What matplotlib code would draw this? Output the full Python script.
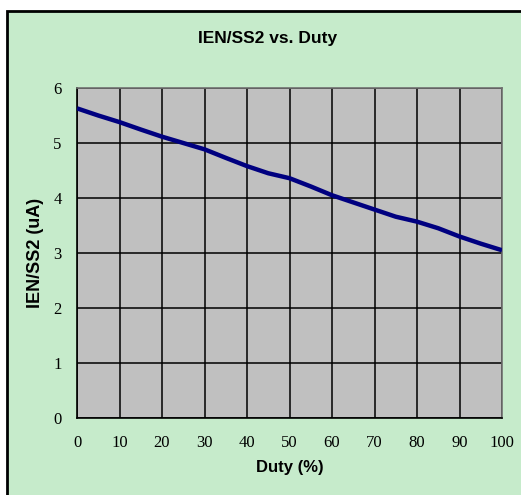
import matplotlib
matplotlib.use("Agg")
import matplotlib.pyplot as plt
from matplotlib.patches import Rectangle

# data
duty = [0, 5, 10, 15, 20, 25, 30, 35, 40, 45, 50, 55, 60, 65, 70, 75, 80, 85, 90, 95, 100]
ien = [5.63, 5.50, 5.38, 5.245, 5.115, 5.00, 4.885, 4.73, 4.58, 4.45, 4.36, 4.21,
       4.05, 3.92, 3.79, 3.66, 3.57, 3.45, 3.30, 3.17, 3.05]
xticks = list(range(0, 101, 10))
yticks = list(range(0, 7))

W, H = 521, 495
fig = plt.figure(figsize=(W / 100, H / 100), dpi=100, facecolor="white")

# green chart panel with black frame (right/bottom run off the image)
fig.patches.append(Rectangle((7 / W, -0.05), 1.1, 1 - 11 / H + 0.05, transform=fig.transFigure,
                             facecolor="#C6EBCB", edgecolor="black", linewidth=2, zorder=-1))

ax = fig.add_axes([77 / W, 1 - 418 / H, (502 - 77) / W, (418 - 88) / H])
ax.set_facecolor("#C0C0C0")
ax.plot(duty, ien, color="#000080", linewidth=3.2, solid_capstyle="butt", zorder=3)

ax.set_xlim(0, 100)
ax.set_ylim(0, 6)
ax.set_xticks(xticks)
ax.set_yticks(yticks)
ax.grid(True, color="black", linewidth=1.1)
ax.set_axisbelow(True)
for s in ax.spines.values():
    s.set_color("#707070")
    s.set_linewidth(1.2)
ax.spines["left"].set_color("black")
ax.spines["bottom"].set_color("black")
ax.tick_params(length=0, pad=12)
for lab in ax.get_xticklabels() + ax.get_yticklabels():
    lab.set_fontfamily("Liberation Serif")
    lab.set_fontsize(12)
ax.tick_params(axis="y", pad=11)

ax.set_xlabel("Duty (%)", fontfamily="Liberation Sans", fontweight="bold", fontsize=12, labelpad=7)
ax.set_ylabel("IEN/SS2 (uA)", fontfamily="Liberation Sans", fontweight="bold", fontsize=13, labelpad=7)
fig.text(268 / W, 1 - 38 / H, "IEN/SS2 vs. Duty", ha="center", va="center",
         fontfamily="Liberation Sans", fontweight="bold", fontsize=12.5)

fig.savefig("out.png", dpi=100, facecolor="white")
